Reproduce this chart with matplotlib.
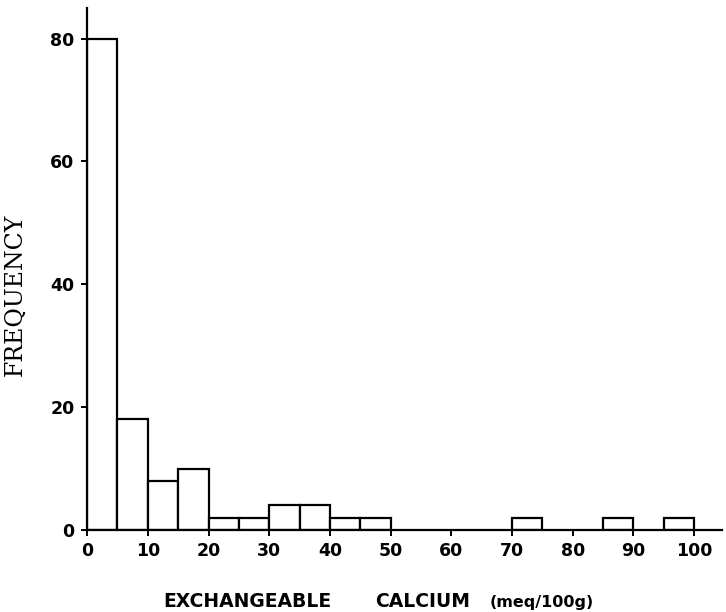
import numpy as np
import matplotlib.pyplot as plt

# histogram of exchangeable calcium, 5 meq bins
bin_left = [0, 5, 10, 15, 20, 25, 30, 35, 40, 45, 70, 85, 95]
counts = [80, 18, 8, 10, 2, 2, 4, 4, 2, 2, 2, 2, 2]
bin_width = 5
xticks = [0, 10, 20, 30, 40, 50, 60, 70, 80, 90, 100]
yticks = [0, 20, 40, 60, 80]

fig = plt.figure(figsize=(7.26, 6.12), dpi=100)
ax = fig.add_axes([0.12, 0.134, 0.8745, 0.853])

ax.bar(bin_left, counts, width=bin_width, align='edge', facecolor='white',
       edgecolor='black', linewidth=1.6)

ax.set_xlim(0, 104.6)
ax.set_ylim(0, 85)
ax.set_xticks(xticks)
ax.set_yticks(yticks)
for s in ['top', 'right']:
    ax.spines[s].set_visible(False)
for s in ['left', 'bottom']:
    ax.spines[s].set_linewidth(1.6)

ax.tick_params(axis='both', width=1.4, length=4, direction='out', pad=5)
for lab in ax.get_xticklabels() + ax.get_yticklabels():
    lab.set_fontsize(12.5)
    lab.set_fontweight('bold')
    lab.set_family('DejaVu Sans')

ax.set_ylabel('FREQUENCY', fontsize=17, family='DejaVu Serif')
ax.yaxis.set_label_coords(-0.096, 0.45)

# x label drawn in three pieces to get the wide gaps of the original
xlab_parts = ['EXCHANGEABLE', 'CALCIUM', '(meq/100g)']
xlab_left = [163, 375, 490]
xlab_size = [13.5, 13.5, 11.5]
for txt, px, fs in zip(xlab_parts, xlab_left, xlab_size):
    fig.text(px / 726, 0.0085, txt, fontsize=fs, fontweight='bold',
             ha='left', va='baseline')

fig.savefig('out.png', dpi=100)
